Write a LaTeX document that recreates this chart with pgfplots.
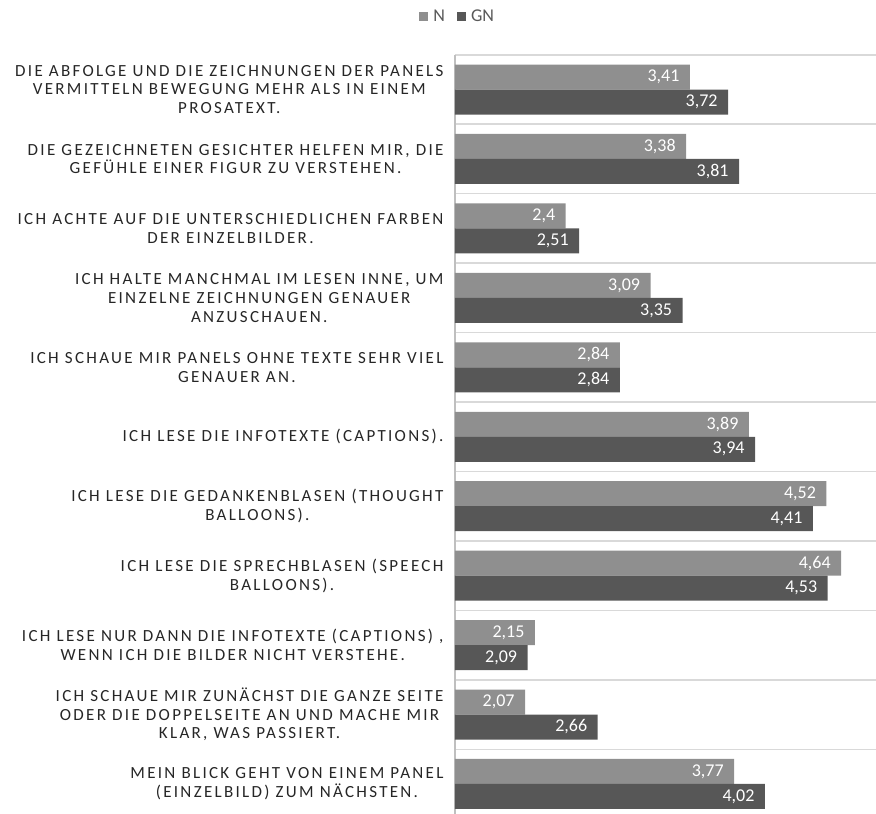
\documentclass[border=0pt]{standalone}
\usepackage{pgfplots}
\pgfplotsset{compat=1.18}
\usepackage{fontspec}
\setmainfont{Carlito}
\newfontfamily\lab[LetterSpace=13.5]{Carlito}
\definecolor{cN}{HTML}{8F8F8F}
\definecolor{cGN}{HTML}{575757}
\definecolor{gridc}{HTML}{D9D9D9}
\definecolor{axc}{HTML}{BFBFBF}
\definecolor{txt}{HTML}{262626}
\definecolor{legt}{HTML}{595959}
\begin{document}
\begin{tikzpicture}
\path[use as bounding box] (-455pt,0pt) rectangle (421pt,814pt);
\begin{axis}[
  at={(0pt,-4.7pt)}, anchor=south west,
  scale only axis, width=421pt, height=763.9pt,
  xbar, bar width=25pt,
  xmin=1.5, xmax=4.923,
  ymin=-0.5, ymax=10.5, y dir=reverse,
  xtick=\empty,
  ytick={0,...,10},
  minor ytick={-0.5,0.5,...,10.5},
  yminorgrids=true,
  minor grid style={color=gridc, line width=1.5pt},
  major tick length=0pt, minor tick length=0pt,
  axis x line=none,
  axis y line*=left,
  axis line style={-, color=axc, line width=1.2pt},
  yticklabels={
    {DIE ABFOLGE UND DIE ZEICHNUNGEN DER PANELS\\VERMITTELN BEWEGUNG MEHR ALS IN EINEM\\PROSATEXT.},
    {DIE GEZEICHNETEN GESICHTER HELFEN MIR, DIE\\GEFÜHLE EINER FIGUR ZU VERSTEHEN.},
    {ICH ACHTE AUF DIE UNTERSCHIEDLICHEN FARBEN\\DER EINZELBILDER.},
    {ICH HALTE MANCHMAL IM LESEN INNE, UM\\EINZELNE ZEICHNUNGEN GENAUER\\ANZUSCHAUEN.},
    {ICH SCHAUE MIR PANELS OHNE TEXTE SEHR VIEL\\GENAUER AN.},
    {ICH LESE DIE INFOTEXTE (CAPTIONS).},
    {ICH LESE DIE GEDANKENBLASEN (THOUGHT\\BALLOONS).},
    {ICH LESE DIE SPRECHBLASEN (SPEECH\\BALLOONS).},
    {ICH LESE NUR DANN DIE INFOTEXTE (CAPTIONS) ,\\WENN ICH DIE BILDER NICHT VERSTEHE.},
    {ICH SCHAUE MIR ZUNÄCHST DIE GANZE SEITE\\ODER DIE DOPPELSEITE AN UND MACHE MIR\\KLAR, WAS PASSIERT.},
    {MEIN BLICK GEHT VON EINEM PANEL\\(EINZELBILD) ZUM NÄCHSTEN.}
  },
  yticklabel style={align=center, font=\lab\fontsize{17}{18.7}\selectfont, text=txt, xshift=-8pt},
  nodes near coords,
  point meta=explicit symbolic,
  every node near coord/.append style={anchor=east, text=white, font=\fontsize{18}{20}\selectfont, xshift=-7pt},
  legend columns=2,
  legend style={at={(0.01,1)}, anchor=south, yshift=30pt, draw=none, font=\fontsize{18}{20}\selectfont, text=legt,
    /tikz/every even column/.append style={column sep=7pt}, inner sep=0pt,
    nodes={inner xsep=5pt}},
  legend image code/.code={\fill[#1] (0pt,-4.5pt) rectangle (9pt,4.5pt);},
]
\addplot[fill=cN, draw=none, bar shift=12.5pt] table[meta=lab] {
x y lab
3.41 0 3,41
3.38 1 3,38
2.4 2 2,4
3.09 3 3,09
2.84 4 2,84
3.89 5 3,89
4.52 6 4,52
4.64 7 4,64
2.15 8 2,15
2.07 9 2,07
3.77 10 3,77
};
\addplot[fill=cGN, draw=none, bar shift=-12.5pt] table[meta=lab] {
x y lab
3.72 0 3,72
3.81 1 3,81
2.51 2 2,51
3.35 3 3,35
2.84 4 2,84
3.94 5 3,94
4.41 6 4,41
4.53 7 4,53
2.09 8 2,09
2.66 9 2,66
4.02 10 4,02
};
\legend{N,GN}
\end{axis}
\end{tikzpicture}
\end{document}
